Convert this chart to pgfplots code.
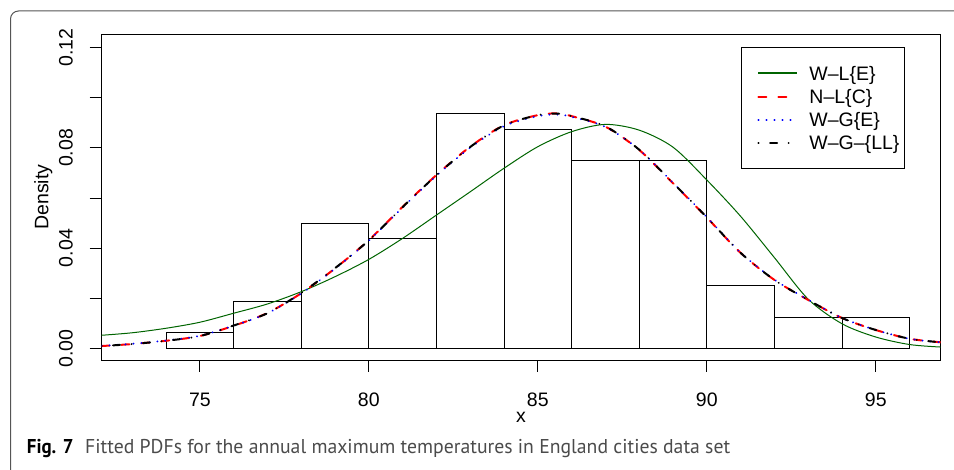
\documentclass[border=0pt]{standalone}
\usepackage{fontspec}
\setmainfont{Liberation Sans}
\newfontfamily\capfont{PT Sans}
\usepackage{graphicx}
\usepackage{pgfplots}
\pgfplotsset{compat=1.18}
\definecolor{rgreen}{RGB}{0,100,0}
\definecolor{capgray}{RGB}{75,75,75}
\definecolor{framegray}{RGB}{85,85,85}

\pgfplotstableread{
x y
72.09 0.0052
73 0.0062
74 0.0080
75 0.0104
76 0.0140
77 0.0177
78 0.0226
79 0.0286
80 0.0355
81 0.0439
82 0.0532
83 0.0625
84 0.0719
85 0.0805
86 0.0865
87 0.0894
88 0.0871
89 0.0803
90 0.0672
91 0.0527
92 0.0362
93 0.0196
94 0.0098
95 0.0045
96 0.0015
96.92 0.0005
}\wle

\pgfplotstableread{
x y
72.09 0.0009
73 0.0017
74 0.0030
75 0.0049
76 0.0090
77 0.0141
78 0.0220
79 0.0319
80 0.0432
81 0.0565
82 0.0692
83 0.0805
84 0.0891
85 0.0931
85.6 0.0938
86 0.0927
87 0.0885
88 0.0792
89 0.0659
90 0.0522
91 0.0381
92 0.0273
93 0.0193
94 0.0121
95 0.0073
96 0.0038
96.92 0.0024
}\nlc

\pgfplotstableread{
x y
72.09 0.0010
73 0.0018
74 0.0031
75 0.0050
76 0.0090
77 0.0140
78 0.0219
79 0.0318
80 0.0430
81 0.0562
82 0.0689
83 0.0801
84 0.0887
85 0.0927
85.6 0.0933
86 0.0924
87 0.0884
88 0.0793
89 0.0661
90 0.0524
91 0.0382
92 0.0274
93 0.0194
94 0.0121
95 0.0073
96 0.0038
96.92 0.0024
}\wge

\pgfplotstableread{
x y
72.09 0.0009
73 0.0017
74 0.0030
75 0.0049
76 0.0091
77 0.0140
78 0.0221
79 0.0320
80 0.0431
81 0.0564
82 0.0691
83 0.0804
84 0.0890
85 0.0931
85.6 0.0937
86 0.0927
87 0.0886
88 0.0793
89 0.0660
90 0.0523
91 0.0381
92 0.0273
93 0.0193
94 0.0121
95 0.0073
96 0.0038
96.92 0.0024
}\wgll

\begin{document}
\begin{tikzpicture}
\path[use as bounding box] (0pt,0pt) rectangle (954pt,470pt);
\draw[framegray, line width=1pt, rounded corners=8pt] (10.5pt,-40pt) -- (10.5pt,459pt) -- (1020pt,459pt);
\begin{axis}[
  at={(101.5pt,110pt)}, anchor=south west,
  scale only axis, width=839.2pt, height=325.5pt,
  xmin=72.09, xmax=96.92, ymin=-0.00467, ymax=0.1253,
  axis line style={line width=0.9pt},
  xtick={75,80,85,90,95}, xticklabels={75,80,85,90,95},
  ytick={0,0.02,0.04,0.06,0.08,0.10,0.12},
  yticklabels={0.00,,0.04,,0.08,,0.12},
  xtick pos=left, ytick pos=left,
  tick align=outside, major tick length=12pt,
  tick style={line width=0.9pt, black},
  /pgf/number format/assume math mode=true,
  ticklabel style={font=\fontsize{19.5}{23}\selectfont, inner sep=0pt},
  xticklabel style={anchor=north},
  yticklabel style={rotate=90, anchor=south},
  xticklabel shift=21pt, yticklabel shift=16.5pt,
  xlabel={x}, ylabel={Density},
  label style={font=\fontsize{19.5}{23}\selectfont, inner sep=0pt},
  xlabel style={at={(axis description cs:0.5,-0.1914)}, anchor=base},
  ylabel style={at={(axis description cs:-0.0634,0.5)}, anchor=base},
  legend style={at={(0.7617,0.9607)}, anchor=north west, draw=black, line width=0.9pt, fill=white,
    inner xsep=5pt, inner ysep=14.2pt, row sep=0pt,
    font=\fontsize{19.5}{23}\selectfont,
    nodes={inner sep=0pt, text height=18.55pt, text depth=4.55pt},
    /tikz/every odd column/.append style={column sep=0pt}},
  legend cell align=left,
  legend image code/.code={\path (0pt,0pt) (61.3pt,0pt); \draw[#1, line width=2pt] (11.3pt,0pt) -- (50.3pt,0pt);},
]
\addplot[ybar interval, draw=black, fill=none, line width=0.9pt, forget plot] coordinates {
(74,0.00625) (76,0.01875) (78,0.05) (80,0.04375) (82,0.09375) (84,0.0875)
(86,0.075) (88,0.075) (90,0.025) (92,0.0125) (94,0.0125) (96,0.0125)};
\addplot[rgreen, line width=1pt, smooth] table[x=x,y=y] {\wle};
\addlegendentry{W--L\{E\}}
\addplot[red, line width=2pt, line cap=round, dash pattern=on 8pt off 12pt, smooth] table[x=x,y=y] {\nlc};
\addlegendentry{N--L\{C\}}
\addplot[blue, line width=2pt, line cap=round, dash pattern=on 0.1pt off 7.9pt, smooth] table[x=x,y=y] {\wge};
\addlegendentry{W--G\{E\}}
\addplot[black, line width=2pt, line cap=round, dash pattern=on 0.1pt off 11.5pt on 7pt off 11.5pt, smooth] table[x=x,y=y] {\wgll};
\addlegendentry{W--G--\{LL\}}
\end{axis}
\node[anchor=base west, inner sep=0pt] at (26.7pt,16pt) {\resizebox{46.6pt}{\height}{\capfont\fontsize{20}{24}\selectfont\bfseries Fig. 7}};
\node[anchor=base west, inner sep=0pt, text=capgray] at (85pt,16pt) {\resizebox{645pt}{\height}{\capfont\fontsize{20}{24}\selectfont Fitted PDFs for the annual maximum temperatures in England cities data set}};
\end{tikzpicture}
\end{document}
